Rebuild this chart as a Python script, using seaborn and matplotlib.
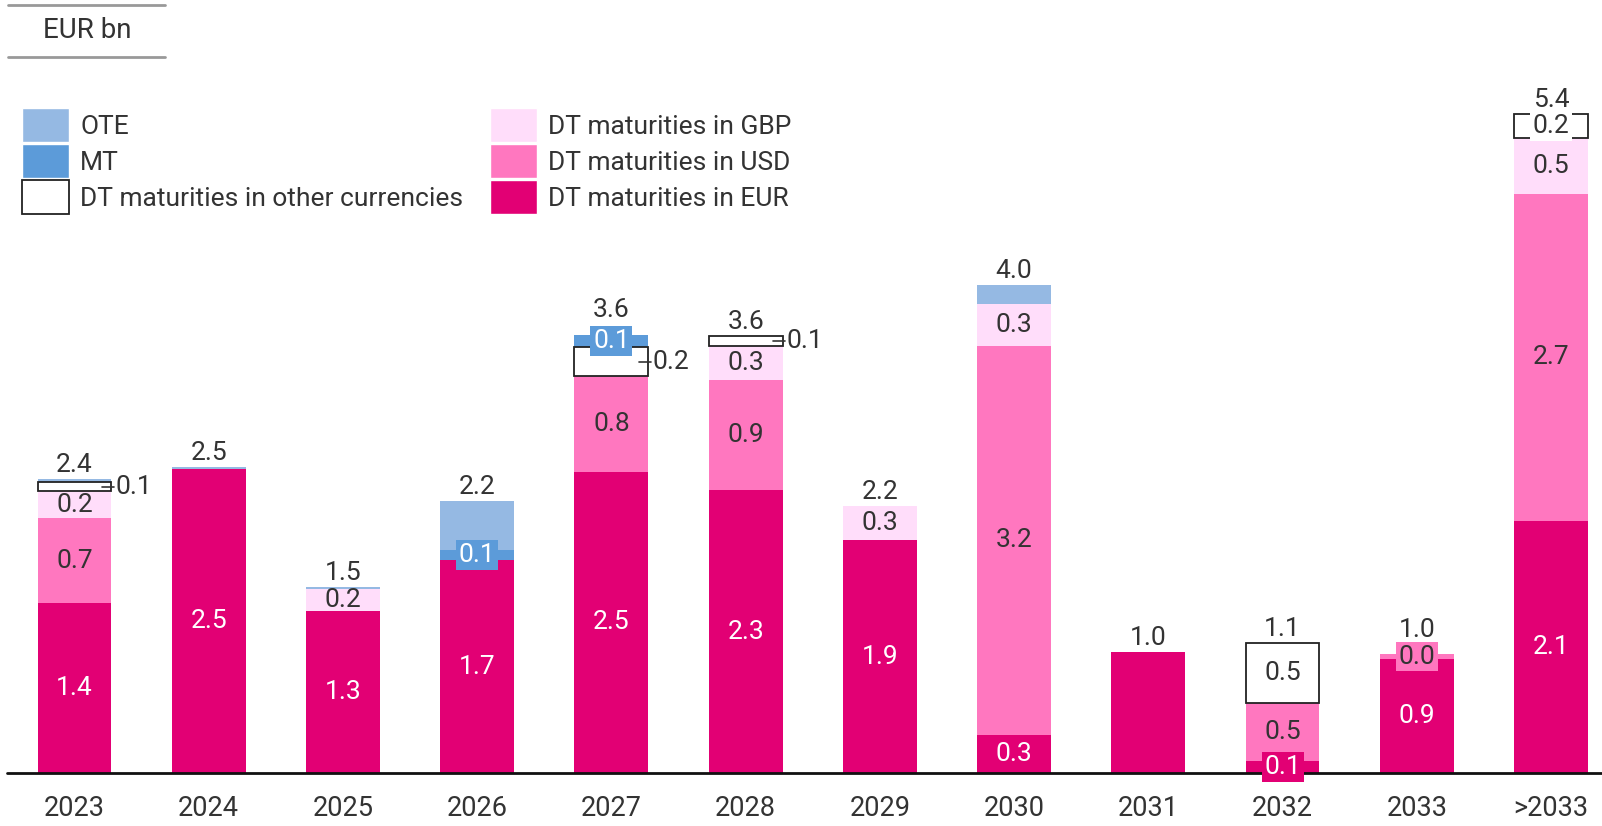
import matplotlib
matplotlib.use('Agg')
import matplotlib.pyplot as plt
import matplotlib.patches as mpatches
import seaborn as sns

# Maturity profile, EUR bn
years = ['2023', '2024', '2025', '2026', '2027', '2028', '2029', '2030', '2031', '2032', '2033', '>2033']
eur = [1.39, 2.48, 1.32, 1.74, 2.46, 2.31, 1.90, 0.31, 0.99, 0.10, 0.93, 2.06]
usd = [0.69, 0, 0, 0, 0.78, 0.90, 0, 3.18, 0, 0.47, 0.04, 2.67]
gbp = [0.22, 0, 0.18, 0, 0, 0.28, 0.28, 0.34, 0, 0, 0, 0.46]
other = [0.08, 0, 0, 0, 0.24, 0.08, 0, 0, 0, 0.49, 0, 0.19]
mt = [0, 0, 0, 0.08, 0.10, 0, 0, 0, 0, 0, 0, 0]
ote = [0.02, 0.02, 0.02, 0.40, 0, 0, 0, 0.16, 0, 0, 0, 0]

sns.set_style('white')
plt.rcParams['font.family'] = ['Roboto', 'DejaVu Sans']

C_EUR = '#E20074'
C_USD = '#FF77BF'
C_GBP = '#FFDDFA'
C_OTHER = '#FFFFFF'
C_MT = '#5C9BD9'
C_OTE = '#95B9E3'
TXT = '#333333'
FS = 19

layers = [
    ('DT maturities in EUR', eur, C_EUR, 'white'),
    ('DT maturities in USD', usd, C_USD, TXT),
    ('DT maturities in GBP', gbp, C_GBP, TXT),
    ('DT maturities in other currencies', other, C_OTHER, TXT),
    ('MT', mt, C_MT, 'white'),
    ('OTE', ote, C_OTE, TXT),
]

# special label handling
side_labels = {('DT maturities in other currencies', '2023'), ('DT maturities in other currencies', '2027'),
               ('DT maturities in other currencies', '2028')}
box_labels = {('DT maturities in other currencies', '>2033'), ('MT', '2026'), ('MT', '2027'),
              ('DT maturities in EUR', '2032'), ('DT maturities in USD', '2033')}
no_labels = {('DT maturities in EUR', '2031')}

fig = plt.figure(figsize=(16.02, 8.26), dpi=100)
ax = fig.add_axes([0, 53 / 826, 1, 773 / 826])

W = 0.55
bottoms = [0.0] * len(years)
top_key = [None] * len(years)
for name, vals, col, tcol in layers:
    idx = [i for i, v in enumerate(vals) if v > 0]
    xs = [years[i] for i in idx]
    hs = [vals[i] for i in idx]
    bs = [bottoms[i] for i in idx]
    if name.endswith('other currencies'):
        sns.barplot(x=xs, y=hs, order=years, bottom=bs, color=col, saturation=1, width=W,
                    errorbar=None, edgecolor='#222222', linewidth=1.3, ax=ax, zorder=3)
    else:
        sns.barplot(x=xs, y=hs, order=years, bottom=bs, color=col, saturation=1, width=W,
                    errorbar=None, linewidth=0, ax=ax, zorder=2)
    for i in idx:
        v = vals[i]
        mid = bottoms[i] + v / 2
        key = (name, years[i])
        top_key[i] = key
        lab = f'{v:.1f}'
        if key in side_labels:
            ax.plot([i + W / 2 - 0.07, i + W / 2 + 0.02], [mid, mid], color=TXT, lw=1.2, zorder=5)
            ax.text(i + W / 2 + 0.03, mid, lab, ha='left', va='center', fontsize=FS, color=TXT, zorder=6)
        elif key in box_labels:
            ax.text(i, mid, lab, ha='center', va='center', fontsize=FS, color=tcol, zorder=8,
                    bbox=dict(boxstyle='square,pad=0.1', facecolor=col, edgecolor='none'))
        elif key not in no_labels and name != 'OTE' and v >= 0.15:
            ax.text(i, mid, lab, ha='center', va='center', fontsize=FS, color=tcol, zorder=6)
        bottoms[i] += v

# totals on top (lifted where a boxed label pokes out of the bar top)
for i, tot in enumerate(bottoms):
    lift = 9 if (top_key[i] in box_labels and top_key[i][0] != 'DT maturities in other currencies') else 1.5
    ax.annotate(f'{tot:.1f}', (i, tot), xytext=(0, lift), textcoords='offset points',
                ha='center', va='bottom', fontsize=FS, color=TXT)

ax.plot([-0.5, 11.38], [0, 0], color='#111111', lw=2, zorder=7, clip_on=False)
ax.set_xlim(-0.555, 11.38)
ax.set_ylim(0, 773 / 122.4)
ax.set_yticks([])
ax.set_xlabel('')
ax.set_ylabel('')
ax.set_xticks(range(len(years)))
ax.set_xticklabels(years, fontsize=19.5, color=TXT)
ax.tick_params(axis='x', length=0, pad=16)
sns.despine(ax=ax, left=True, bottom=True)

# legend
handles = [
    mpatches.Patch(facecolor=C_OTE, label='OTE'),
    mpatches.Patch(facecolor=C_MT, label='MT'),
    mpatches.Patch(facecolor='white', edgecolor='#222222', linewidth=1.3, label='DT maturities in other currencies'),
    mpatches.Patch(facecolor=C_GBP, label='DT maturities in GBP'),
    mpatches.Patch(facecolor=C_USD, label='DT maturities in USD'),
    mpatches.Patch(facecolor=C_EUR, label='DT maturities in EUR'),
]
leg = fig.legend(handles=handles, ncol=2, loc='upper left', bbox_to_anchor=(22 / 1602, 1 - 108 / 826),
                 frameon=False, fontsize=FS, handlelength=1.78, handleheight=1.6, labelspacing=0.08,
                 handletextpad=0.42, columnspacing=1.02, borderpad=0, borderaxespad=0)
for t in leg.get_texts():
    t.set_color(TXT)

# unit label
fig.text(87 / 1602, 1 - 31 / 826, 'EUR bn', ha='center', va='center', fontsize=20, color=TXT)
fig.add_artist(plt.Line2D([8 / 1602, 165 / 1602], [1 - 5 / 826, 1 - 5 / 826], color='#999999', lw=2))
fig.add_artist(plt.Line2D([8 / 1602, 165 / 1602], [1 - 57 / 826, 1 - 57 / 826], color='#999999', lw=2))

plt.savefig('out.png', dpi=100)
